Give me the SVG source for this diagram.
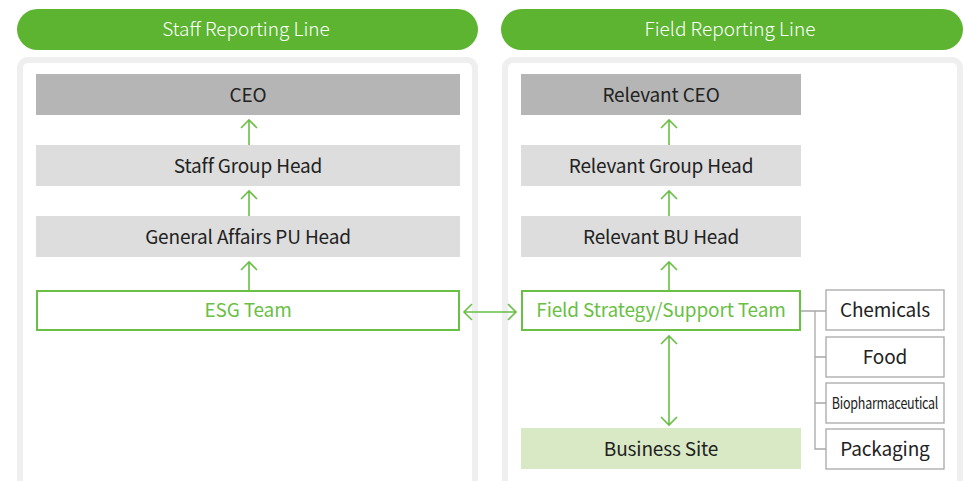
<svg xmlns="http://www.w3.org/2000/svg" width="964" height="481" viewBox="0 0 964 481">
<style>
text{font-family:"Noto Sans CJK KR","Noto Sans",sans-serif;font-size:19px;text-anchor:middle;fill:#222;letter-spacing:-0.15px}
.hdr{fill:#fff;font-size:19px;letter-spacing:0px;font-weight:300}
.pill{fill:#5cb431}
.panel{fill:#fff;stroke:#efefef;stroke-width:6}
.dark{fill:#b4b5b4}
.light{fill:#dcdddc}
.gbox{fill:#fff;stroke:#6abf45;stroke-width:2}
.gtxt{fill:#6abf45}
.site{fill:#d9e9c5}
.sbox{fill:#fff;stroke:#a8a8a8;stroke-width:1.3}
.arr{stroke:#6abf45;stroke-width:1.6;fill:none}
.tree{stroke:#a8a8a8;stroke-width:1.3;fill:none}
</style>
<rect width="964" height="481" fill="#fff"/>
<g id="headers">
<rect class="pill" x="17" y="9" width="461" height="41" rx="20.5"/>
<text class="hdr" x="246" y="36">Staff Reporting Line</text>
<rect class="pill" x="501" y="9" width="462" height="41" rx="20.5"/>
<text class="hdr" x="730" y="36">Field Reporting Line</text>
</g>
<g id="panels">
<rect class="panel" x="20" y="60" width="455" height="440" rx="8"/>
<rect class="panel" x="505" y="60" width="455" height="440" rx="8"/>
</g>
<g id="ceo"><rect class="dark" x="36" y="74" width="424" height="41"/><text x="248" y="102">CEO</text></g>
<g id="staff-group-head"><rect class="light" x="36" y="145" width="424" height="41"/><text x="248" y="173">Staff Group Head</text></g>
<g id="general-affairs"><rect class="light" x="36" y="216" width="424" height="41"/><text x="248" y="244">General Affairs PU Head</text></g>
<g id="esg-team"><rect class="gbox" x="37" y="291" width="422" height="39"/><text class="gtxt" x="248" y="317">ESG Team</text></g>
<g id="relevant-ceo"><rect class="dark" x="521" y="74" width="280" height="41"/><text x="661" y="102">Relevant CEO</text></g>
<g id="relevant-group-head"><rect class="light" x="521" y="145" width="280" height="41"/><text x="661" y="173">Relevant Group Head</text></g>
<g id="relevant-bu-head"><rect class="light" x="521" y="216" width="280" height="41"/><text x="661" y="244">Relevant BU Head</text></g>
<g id="field-team"><rect class="gbox" x="522" y="291" width="278" height="39"/><text class="gtxt" x="661" y="317">Field Strategy/Support Team</text></g>
<g id="business-site"><rect class="site" x="521" y="428" width="280" height="41"/><text x="661" y="456">Business Site</text></g>
<g id="chemicals"><rect class="sbox" x="826" y="290" width="118" height="40"/><text x="885" y="317">Chemicals</text></g>
<g id="food"><rect class="sbox" x="826" y="337" width="118" height="40"/><text x="885" y="364">Food</text></g>
<g id="biopharmaceutical"><rect class="sbox" x="826" y="383" width="118" height="40"/><text transform="translate(885 409) scale(0.78 1)" x="0" y="0" style="font-size:16px;letter-spacing:-0.3px">Biopharmaceutical</text></g>
<g id="packaging"><rect class="sbox" x="826" y="429" width="118" height="40"/><text x="885" y="456">Packaging</text></g>
<g id="connectors">
<path class="arr" d="M249 145V120M241 128l8-8 8 8"/>
<path class="arr" d="M249 216V191M241 199l8-8 8 8"/>
<path class="arr" d="M249 290V262M241 270l8-8 8 8"/>
<path class="arr" d="M669 145V120M661 128l8-8 8 8"/>
<path class="arr" d="M669 216V191M661 199l8-8 8 8"/>
<path class="arr" d="M669 290V262M661 270l8-8 8 8"/>
<path class="arr" d="M464 312H516M472 304l-8 8 8 8M508 304l8 8-8 8"/>
<path class="arr" d="M669 336V425M661 344l8-8 8 8M661 417l8 8 8-8"/>
<path class="tree" d="M801 311H826M815 311V449H826M815 357H826M815 403H826"/>
</g>
</svg>
